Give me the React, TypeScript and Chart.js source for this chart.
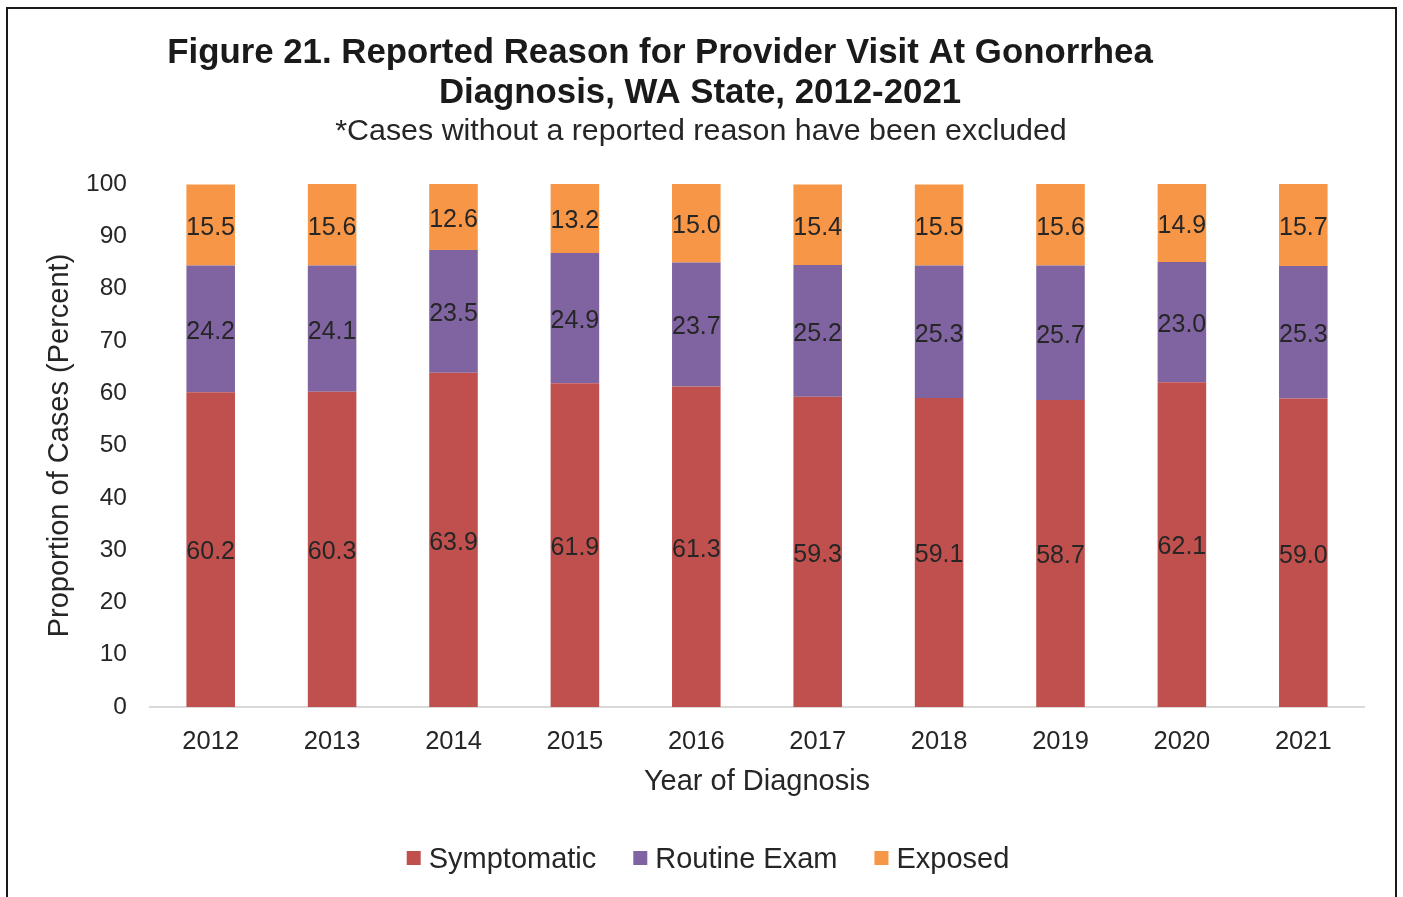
import React, { useEffect, useRef } from "react";
import { Chart, registerables } from "chart.js";

Chart.register(...registerables);

const years = ["2012", "2013", "2014", "2015", "2016", "2017", "2018", "2019", "2020", "2021"];
const symptomatic = [60.2, 60.3, 63.9, 61.9, 61.3, 59.3, 59.1, 58.7, 62.1, 59.0];
const routineExam = [24.2, 24.1, 23.5, 24.9, 23.7, 25.2, 25.3, 25.7, 23.0, 25.3];
const exposed = [15.5, 15.6, 12.6, 13.2, 15.0, 15.4, 15.5, 15.6, 14.9, 15.7];
const seriesNames = ["Symptomatic", "Routine Exam", "Exposed"];
const seriesColors = ["#C0504D", "#8064A2", "#F79646"];
const titleLines = ["Figure 21. Reported Reason for Provider Visit At Gonorrhea", "Diagnosis, WA State, 2012-2021"];
const subtitleText = "*Cases without a reported reason have been excluded";

const FONT = "'Liberation Sans', Arial, sans-serif";
const TEXT = "#262626";

const framePlugin = {
  id: "frame",
  beforeDraw(chart: any) {
    const ctx = chart.ctx;
    ctx.save();
    ctx.fillStyle = "#ffffff";
    ctx.fillRect(0, 0, chart.width, chart.height);
    ctx.strokeStyle = "#1a1a1a";
    ctx.lineWidth = 2;
    ctx.strokeRect(7, 8, 1389, 1000);
    ctx.restore();
  },
};

const titlePlugin = {
  id: "customTitle",
  afterDraw(chart: any) {
    const ctx = chart.ctx;
    ctx.save();
    ctx.fillStyle = "#1a1a1a";
    ctx.textAlign = "center";
    ctx.textBaseline = "alphabetic";
    ctx.font = `bold 34.8px ${FONT}`;
    ctx.fillText(titleLines[0], 660, 63);
    ctx.fillText(titleLines[1], 700, 103);
    ctx.font = `30.4px ${FONT}`;
    ctx.fillStyle = TEXT;
    ctx.fillText(subtitleText, 701, 140);
    ctx.restore();
  },
};

const labelPlugin = {
  id: "segLabels",
  afterDatasetsDraw(chart: any) {
    const ctx = chart.ctx;
    ctx.save();
    ctx.fillStyle = TEXT;
    ctx.font = `25px ${FONT}`;
    ctx.textAlign = "center";
    ctx.textBaseline = "middle";
    chart.data.datasets.forEach((ds: any, i: number) => {
      const meta = chart.getDatasetMeta(i);
      meta.data.forEach((el: any, j: number) => {
        const p = el.getProps(["x", "y", "base"], true);
        const v = ds.data[j];
        ctx.fillText(Number(v).toFixed(1), p.x, (p.y + p.base) / 2 + 3);
      });
    });
    ctx.restore();
  },
};

const legendPlugin = {
  id: "customLegend",
  afterDraw(chart: any) {
    const ctx = chart.ctx;
    ctx.save();
    ctx.font = `29px ${FONT}`;
    ctx.textBaseline = "middle";
    ctx.textAlign = "left";
    const box = 14;
    const gap = 8;
    const itemGap = 37;
    const items = chart.data.datasets.map((ds: any) => ({
      label: ds.label,
      color: ds.backgroundColor,
      w: box + gap + ctx.measureText(ds.label).width,
    }));
    const total = items.reduce((a: number, it: any) => a + it.w, 0) + itemGap * (items.length - 1);
    let x = 708 - total / 2;
    const cy = 858;
    items.forEach((it: any) => {
      ctx.fillStyle = it.color;
      ctx.fillRect(x, cy - box / 2, box, box);
      ctx.fillStyle = TEXT;
      ctx.fillText(it.label, x + box + gap, cy + 2);
      x += it.w + itemGap;
    });
    ctx.restore();
  },
};

export default function App() {
  const ref = useRef<HTMLCanvasElement | null>(null);
  useEffect(() => {
    if (!ref.current) return;
    const chart = new Chart(ref.current, {
      type: "bar",
      data: {
        labels: years,
        datasets: [
          { label: seriesNames[0], data: symptomatic, backgroundColor: seriesColors[0] },
          { label: seriesNames[1], data: routineExam, backgroundColor: seriesColors[1] },
          { label: seriesNames[2], data: exposed, backgroundColor: seriesColors[2] },
        ],
      },
      options: {
        responsive: false,
        animation: false,
        layout: { padding: { left: 43, right: 39, top: 184, bottom: 98 } },
        datasets: { bar: { categoryPercentage: 1, barPercentage: 0.4, borderWidth: 0 } },
        plugins: { legend: { display: false }, title: { display: false }, tooltip: { enabled: false } },
        scales: {
          x: {
            stacked: true,
            grid: { display: false, drawTicks: false },
            border: { display: true, color: "#d9d9d9", width: 2 },
            ticks: { color: TEXT, font: { family: FONT, size: 25.5 }, padding: 20 },
            title: { display: true, text: "Year of Diagnosis", color: TEXT, font: { family: FONT, size: 29 }, padding: { top: 0, bottom: 0 } },
            afterFit(scale: any) { scale.height = 92; },
          },
          y: {
            stacked: true,
            min: 0,
            max: 100,
            grid: { display: false, drawTicks: false },
            border: { display: false },
            ticks: { stepSize: 10, color: TEXT, font: { family: FONT, size: 24.5 }, padding: 23 },
            title: { display: true, text: "Proportion of Cases (Percent)", color: TEXT, font: { family: FONT, size: 29 }, padding: { top: 0, bottom: 0 } },
            afterFit(scale: any) { scale.width = 107; },
          },
        },
      },
      plugins: [framePlugin, titlePlugin, labelPlugin, legendPlugin],
    } as any);
    return () => chart.destroy();
  }, []);
  return (
    <canvas
      ref={ref}
      width={1403}
      height={897}
      style={{ position: "fixed", left: 0, top: 0, width: 1403, height: 897 }}
    />
  );
}
